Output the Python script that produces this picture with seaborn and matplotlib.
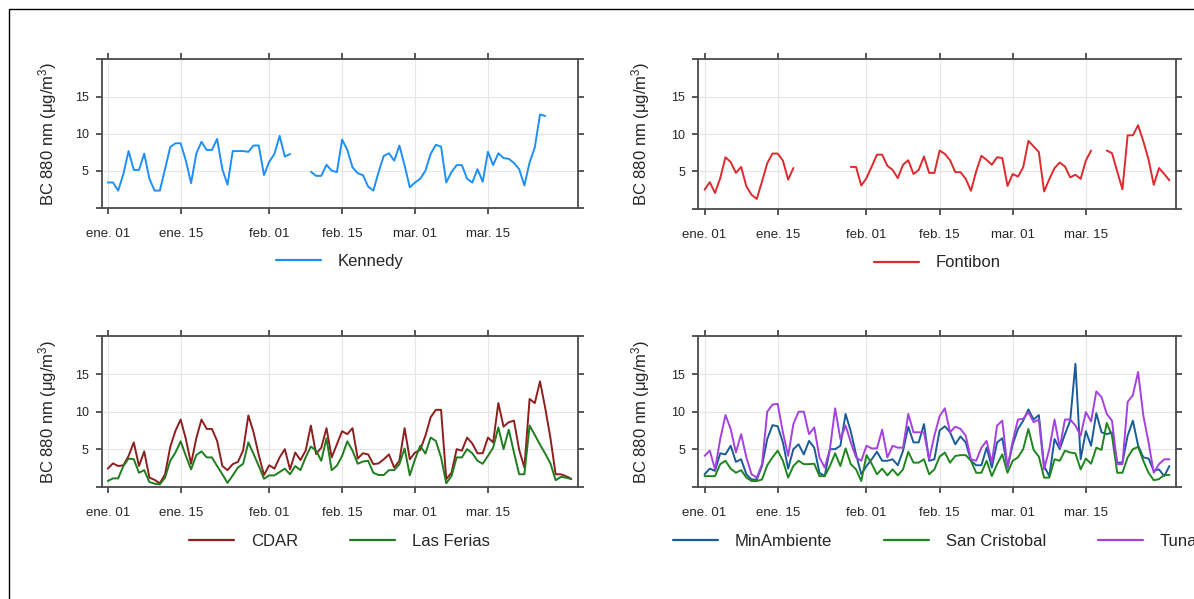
import numpy as np
import pandas as pd
import matplotlib
matplotlib.use("Agg")
import matplotlib.pyplot as plt
import seaborn as sns
from matplotlib.lines import Line2D
from matplotlib.patches import Rectangle

nan = np.nan

# ---------------- data ----------------
n_days = 90  # 2019-01-01 .. 2019-03-31, daily means
tick_days = [0, 14, 31, 45, 59, 73]
tick_labels = ["ene. 01", "ene. 15", "feb. 01", "feb. 15", "mar. 01", "mar. 15"]
y_ticks = [5, 10, 15]
y_label = "BC 880 nm (μg/m$^3$)"

kennedy = [3.4, 3.4, 2.3, 4.55, 7.65, 5.1, 5.1, 7.3, 3.9, 2.3, 2.3, 5.2, 8.2, 8.7, 8.7,
           6.35, 3.3, 7.3, 8.9, 7.8, 7.8, 9.3, 5.2, 3.1, 7.65, 7.65, 7.65, 7.55, 8.4, 8.4,
           4.4, 6.2, 7.25, 9.7, 6.9, 7.25, nan, nan, nan, 4.85, 4.3, 4.3, 5.8, 5.0, 4.8,
           9.2, 7.8, 5.45, 4.65, 4.4, 2.85, 2.3, 4.8, 7.0, 7.35, 6.35, 8.4, 5.7, 2.75, 3.4,
           3.9, 5.0, 7.25, 8.5, 8.25, 3.4, 4.8, 5.75, 5.75, 3.9, 3.4, 5.2, 3.5, 7.55, 5.75,
           7.35, 6.7, 6.6, 6.05, 5.2, 3.0, 6.1, 8.15, 12.6, 12.4, nan, nan, nan, nan, nan]

fontibon = [2.55, 3.55, 2.1, 4.1, 6.9, 6.25, 4.8, 5.6, 3.0, 1.85, 1.3, 3.65, 6.1, 7.4, 7.4,
            6.45, 3.9, 5.45, nan, nan, nan, nan, nan, nan, nan, nan, nan, nan, 5.6, 5.6,
            3.1, 4.1, 5.65, 7.25, 7.25, 5.75, 5.2, 4.1, 5.9, 6.5, 4.65, 5.2, 7.0, 4.8, 4.8,
            7.8, 7.35, 6.5, 4.9, 4.9, 4.0, 2.4, 5.0, 7.1, 6.55, 5.9, 6.9, 6.8, 3.05, 4.65,
            4.3, 5.55, 9.1, 8.35, 7.6, 2.3, 3.95, 5.45, 6.2, 5.65, 4.2, 4.55, 4.0, 6.45, 7.8,
            nan, nan, 7.8, 7.45, 5.0, 2.6, 9.85, 9.85, 11.2, 9.05, 6.6, 3.2, 5.45, 4.65, 3.8]

cdar = [2.4, 3.1, 2.75, 2.85, 4.1, 5.9, 2.75, 4.7, 1.2, 0.9, 0.45, 1.65, 5.3, 7.45, 8.95,
        6.35, 3.05, 6.45, 8.95, 7.7, 7.7, 6.1, 2.75, 2.2, 3.0, 3.3, 4.85, 9.5, 7.25, 4.2,
        1.55, 2.85, 2.4, 3.9, 5.0, 2.3, 4.55, 3.55, 4.8, 8.15, 4.35, 5.2, 7.8, 3.9, 5.65,
        7.4, 7.0, 7.8, 3.75, 4.45, 4.3, 3.0, 3.1, 3.65, 4.3, 2.55, 3.45, 7.8, 3.65, 4.55,
        4.9, 6.8, 9.25, 10.25, 10.25, 1.0, 1.85, 5.0, 4.8, 6.55, 5.75, 4.45, 4.45, 6.55, 5.9,
        11.15, 8.0, 8.6, 8.8, 4.9, 2.55, 11.7, 11.15, 14.05, 10.5, 6.5, 1.65, 1.65, 1.4, 1.05]

las_ferias = [0.75, 1.1, 1.1, 2.75, 3.75, 3.65, 1.85, 2.2, 0.6, 0.4, 0.3, 1.2, 3.45, 4.55, 6.05,
              4.1, 2.3, 4.2, 4.7, 3.9, 3.9, 2.75, 1.65, 0.5, 1.5, 2.55, 3.05, 5.9, 4.35, 2.75,
              1.05, 1.5, 1.5, 1.95, 2.4, 1.65, 2.75, 2.2, 3.9, 5.35, 4.8, 3.45, 6.45, 2.2, 2.8,
              4.1, 6.05, 4.8, 3.05, 3.35, 3.45, 1.85, 1.55, 1.55, 2.2, 2.2, 3.0, 5.1, 1.5, 3.65,
              5.45, 4.4, 6.55, 6.1, 3.9, 0.45, 1.4, 3.9, 3.9, 5.0, 4.45, 3.45, 3.05, 4.1, 5.2,
              7.9, 5.0, 7.6, 4.55, 1.65, 1.65, 8.15, 6.9, 5.6, 4.4, 3.1, 0.85, 1.3, 1.2, 1.0]

min_ambiente = [1.65, 2.4, 2.1, 4.45, 4.3, 5.45, 3.3, 3.65, 1.65, 0.95, 0.95, 2.75, 6.35, 8.2, 8.05,
                5.9, 2.4, 5.0, 5.65, 4.3, 6.1, 5.2, 1.85, 1.4, 5.0, 5.0, 5.45, 9.7, 7.35, 4.3,
                1.65, 2.75, 3.65, 4.65, 3.45, 3.45, 3.65, 2.85, 4.8, 8.0, 5.9, 5.9, 8.35, 3.45, 3.65,
                7.5, 8.05, 7.25, 5.65, 6.7, 5.9, 3.45, 2.85, 2.85, 5.2, 2.55, 5.9, 6.45, 2.55, 5.65,
                7.7, 8.8, 10.3, 8.95, 9.55, 2.75, 1.4, 6.35, 5.0, 7.0, 8.8, 16.4, 3.65, 7.4, 5.45,
                9.8, 7.25, 7.0, 7.25, 3.2, 3.2, 6.8, 8.8, 5.5, 3.9, 3.75, 2.1, 2.3, 1.4, 2.75]

san_cristobal = [1.4, 1.4, 1.4, 3.0, 3.45, 2.4, 1.85, 2.2, 1.2, 0.75, 0.75, 0.95, 2.85, 3.9, 4.8,
                 3.45, 1.2, 2.75, 3.45, 3.0, 3.0, 3.05, 1.4, 1.4, 2.75, 4.45, 2.75, 5.1, 3.0, 2.3,
                 0.75, 4.2, 3.05, 1.65, 2.4, 1.5, 2.3, 1.5, 2.3, 4.65, 3.2, 3.2, 3.65, 1.65, 2.3,
                 4.0, 4.55, 3.2, 4.1, 4.2, 4.2, 3.45, 1.85, 1.85, 3.45, 1.4, 3.0, 4.3, 1.85, 3.45,
                 3.9, 5.0, 7.7, 4.9, 4.0, 1.2, 1.2, 3.65, 3.45, 4.8, 4.55, 4.45, 2.3, 3.75, 3.05,
                 5.2, 4.9, 8.5, 6.8, 1.85, 1.85, 3.9, 5.0, 5.3, 3.45, 1.85, 0.85, 1.0, 1.55, 1.55]

tunal = [4.1, 4.8, 2.3, 6.35, 9.55, 7.7, 4.55, 7.0, 3.9, 1.65, 1.2, 3.0, 10.0, 10.95, 11.05,
         7.25, 4.1, 8.35, 10.0, 10.0, 7.0, 7.9, 3.9, 2.55, 5.0, 10.45, 6.35, 8.15, 5.9, 3.9,
         3.45, 5.45, 5.1, 5.1, 7.6, 3.9, 5.45, 5.2, 5.2, 9.7, 7.25, 7.25, 7.25, 3.65, 6.8,
         9.4, 10.45, 7.25, 8.0, 7.7, 6.8, 3.65, 3.45, 5.2, 6.1, 3.2, 8.15, 8.8, 2.55, 6.1,
         8.95, 9.05, 9.95, 8.6, 8.95, 2.3, 5.0, 8.95, 5.2, 8.95, 8.95, 8.15, 6.8, 9.95, 8.7,
         12.7, 11.95, 9.7, 8.8, 3.0, 3.0, 11.3, 12.2, 15.3, 9.5, 5.9, 1.85, 3.0, 3.65, 3.65]

stations = {
    "Kennedy": kennedy, "Fontibon": fontibon, "CDAR": cdar, "Las Ferias": las_ferias,
    "MinAmbiente": min_ambiente, "San Cristobal": san_cristobal, "Tunal": tunal,
}
colors = {
    "Kennedy": "#1f8ff5", "Fontibon": "#dc2a2e", "CDAR": "#8e1f1f", "Las Ferias": "#1f7d1f",
    "MinAmbiente": "#1b5c98", "San Cristobal": "#1f861f", "Tunal": "#a542df",
}
panel_groups = [["Kennedy"], ["Fontibon"], ["CDAR", "Las Ferias"],
                ["MinAmbiente", "San Cristobal", "Tunal"]]

# long table, with a segment id so gaps (missing days) stay broken
rows = []
for name, vals in stations.items():
    vals = np.asarray(vals, dtype=float)
    seg = np.cumsum(np.isnan(vals))
    for d, (v, s) in enumerate(zip(vals, seg)):
        if not np.isnan(v):
            rows.append((name, d, v, int(s)))
df = pd.DataFrame(rows, columns=["station", "day", "value", "seg"])

# ---------------- style ----------------
sns.set_theme(style="white")
plt.rcParams["font.family"] = ["Liberation Sans", "DejaVu Sans"]
plt.rcParams["mathtext.fontset"] = "custom"
plt.rcParams["mathtext.rm"] = "Liberation Sans"
plt.rcParams["mathtext.default"] = "regular"

W, H = 1194, 599
fig = plt.figure(figsize=(W / 100, H / 100), dpi=100)
fig.patch.set_facecolor("white")

frame_col = "#4a4a4a"
text_col = "#262626"
ylo, yhi = -0.05, 20.1
xlo, xhi = -1.2, 90.2

# axes rectangles in pixels: (left, top, right, bottom), y-label offset
boxes = [(101.5, 59, 577.5, 208, -0.090), (698.3, 59, 1175.7, 209, -0.097),
         (101.5, 336, 577.5, 487, -0.090), (698.3, 336, 1175.7, 487, -0.097)]

for (l, t, r, b, lab_x), group in zip(boxes, panel_groups):
    ax = fig.add_axes([l / W, 1 - b / H, (r - l) / W, (b - t) / H])
    sub = df[df["station"].isin(group)]
    sns.lineplot(data=sub, x="day", y="value", hue="station", hue_order=group,
                 units="seg", estimator=None, palette=colors, linewidth=1.4,
                 legend=False, ax=ax, zorder=3)
    ax.set_xlim(xlo, xhi)
    ax.set_ylim(ylo, yhi)
    ax.set_xticks(tick_days)
    ax.set_xticklabels(tick_labels)
    ax.set_yticks([ylo] + y_ticks + [yhi])
    ax.set_yticklabels([""] + [str(v) for v in y_ticks] + [""])
    ax.set_xlabel("")
    ax.set_ylabel(y_label, fontsize=12, color=text_col)
    ax.yaxis.set_label_coords(lab_x, 0.5)
    ax.grid(True, color="#e6e6e6", linewidth=0.8)
    ax.set_axisbelow(True)
    for s in ax.spines.values():
        s.set_color(frame_col)
        s.set_linewidth(1.3)
    ax.tick_params(axis="both", direction="out", length=4.3, width=1.3, color=frame_col,
                   top=True, right=True, bottom=True, left=True,
                   labeltop=False, labelright=False, labelcolor=text_col)
    ax.tick_params(axis="x", pad=9.8, labelsize=9.5)
    ax.tick_params(axis="y", pad=5, labelsize=9)

    handles = [Line2D([], [], color=colors[g], lw=1.6) for g in group]
    ax.legend(handles, group, loc="center", bbox_to_anchor=(0.5, -0.36), ncol=len(group),
              frameon=False, fontsize=12, handlelength=2.7, handletextpad=1.0,
              columnspacing=3.1, labelcolor=text_col)

# screenshot border (top and left edges visible)
fig.add_artist(Rectangle((9 / W, -0.05), 1.2, 1 - 9 / H + 0.05, transform=fig.transFigure,
                         fill=False, edgecolor="black", linewidth=1.0))

fig.savefig("out.png", dpi=100)
